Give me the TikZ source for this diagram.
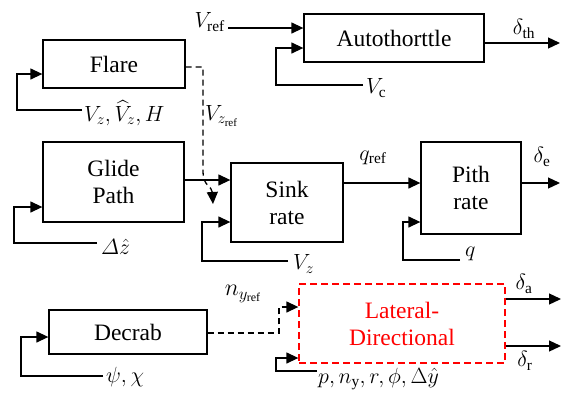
\RequirePackage{fix-cm}
\documentclass[tikz,border=0pt]{standalone}
\usepackage{amsmath}
\usepackage{fontspec}
\setmainfont{Liberation Serif}
\usetikzlibrary{arrows.meta}
\begin{document}
\begin{tikzpicture}[x=1pt,y=-1pt,
 box/.style={draw,line width=1.3pt,inner sep=0pt,align=center,font=\fontsize{23.5}{27}\selectfont},
 arr/.style={line width=1.3pt,-{Triangle[length=12pt,width=11pt]}},
 dsh/.style={dash pattern=on 6pt off 4pt},
 lab/.style={font=\fontsize{22}{24}\selectfont,inner sep=1pt}]
\useasboundingbox (0,0) rectangle (566,394);
% boxes
\node[box,minimum width=142pt,minimum height=48pt] (flare) at (114,64) {Flare};
\node[box,minimum width=141pt,minimum height=80pt] (glide) at (113.5,182) {Glide\\Path};
\node[box,minimum width=112pt,minimum height=79pt] (sink) at (287,202.5) {Sink\\rate};
\node[box,minimum width=100pt,minimum height=92pt] (pith) at (471,188) {Pith\\rate};
\node[box,minimum width=180pt,minimum height=48pt] (auto) at (394,38) {Autothorttle};
\node[box,minimum width=158pt,minimum height=44pt] (decrab) at (128,332) {Decrab};
\node[box,draw=red,text=red,dash pattern=on 7pt off 4pt,minimum width=206pt,minimum height=79pt] (lat) at (402,323.5) {Lateral-\\Directional};
% autothrottle
\coordinate (vrefS) at (228,28);
\draw[arr] (vrefS) -- (auto.west |- vrefS);
\node[lab,anchor=east] (vreflab) at (226,22) {$V_{\mathrm{ref}}$};
\coordinate (vcE) at (363,85);
\coordinate (vcC) at (276,48);
\draw[arr] (vcE) -| (vcC) -- (auto.west |- vcC);
\node[lab,anchor=west] (vclab) at (365,88) {$V_{\mathrm{c}}$};
\coordinate (thE) at (560,43);
\draw[arr] (auto.east |- thE) -- (thE);
\node[lab] (thlab) at (524,29) {$\delta_{\mathrm{th}}$};
% flare
\coordinate (flE) at (82,110);
\coordinate (flC) at (17,74);
\draw[arr] (flE) -| (flC) -- (flare.west |- flC);
\node[lab,anchor=west] (fllab) at (83,113) {$V_z, \widehat{V}_z, H$};
\coordinate (fdA) at (203,67);
\coordinate (fdB) at (203,172);
\coordinate (fdT) at (213,204);
\draw[arr,dsh] (flare.east |- fdA) -- (fdA) -- (fdB) .. controls (203,186) and (212,186) .. (fdT);
\node[lab,anchor=west] (vzreflab) at (204,116) {$V_{z_{\mathrm{ref}}}$};
% glide
\coordinate (gA) at (200,180);
\draw[arr] (glide.east |- gA) -- (sink.west |- gA);
\coordinate (glE) at (97,243);
\coordinate (glC) at (14,207);
\draw[arr] (glE) -| (glC) -- (glide.west |- glC);
\node[lab,anchor=west] (gllab) at (100,247) {$\varDelta\hat{z}$};
% sink
\coordinate (skE) at (288,261);
\coordinate (skC) at (202,222);
\draw[arr] (skE) -| (skC) -- (sink.west |- skC);
\node[lab,anchor=west] (sklab) at (292,264) {$V_z$};
\coordinate (qA) at (380,183);
\draw[arr] (sink.east |- qA) -- (pith.west |- qA);
\node[lab] (qreflab) at (373,158) {$q_{\mathrm{ref}}$};
% pith
\coordinate (eE) at (560,183);
\draw[arr] (pith.east |- eE) -- (eE);
\node[lab] (elab) at (542,157) {$\delta_{\mathrm{e}}$};
\coordinate (pqE) at (460,260);
\coordinate (pqC) at (403,222);
\draw[arr] (pqE) -| (pqC) -- (pith.west |- pqC);
\node[lab,anchor=west] (qlab) at (464,254) {$q$};
% decrab
\coordinate (dcE) at (103,376);
\coordinate (dcC) at (21,337);
\draw[arr] (dcE) -| (dcC) -- (decrab.west |- dcC);
\node[lab,anchor=west] (dclab) at (105,377) {$\psi, \chi$};
\coordinate (ndA) at (279,333);
\coordinate (ndB) at (279,307);
\draw[arr,dsh] (decrab.east |- ndA) -- (ndA) -- (ndB) -- (lat.west |- ndB);
\node[lab,font=\fontsize{24}{26}\selectfont] (nylab) at (243,294) {$n_{y_{\mathrm{ref}}}$};
% lateral
\coordinate (ltE) at (317,371);
\coordinate (ltC) at (276,358);
\draw[arr] (ltE) -| (ltC) -- (lat.west |- ltC);
\node[lab,anchor=west] (ltlab) at (317,379) {$p, n_{\mathrm{y}}, r, \phi, \Delta\hat{y}$};
\coordinate (aE) at (561,299);
\draw[arr] (lat.east |- aE) -- (aE);
\node[lab] (alab) at (524,284) {$\delta_{\mathrm{a}}$};
\coordinate (rE) at (561,346);
\draw[arr] (lat.east |- rE) -- (rE);
\node[lab] (rlab) at (525,361) {$\delta_{\mathrm{r}}$};
\end{tikzpicture}
\end{document}
